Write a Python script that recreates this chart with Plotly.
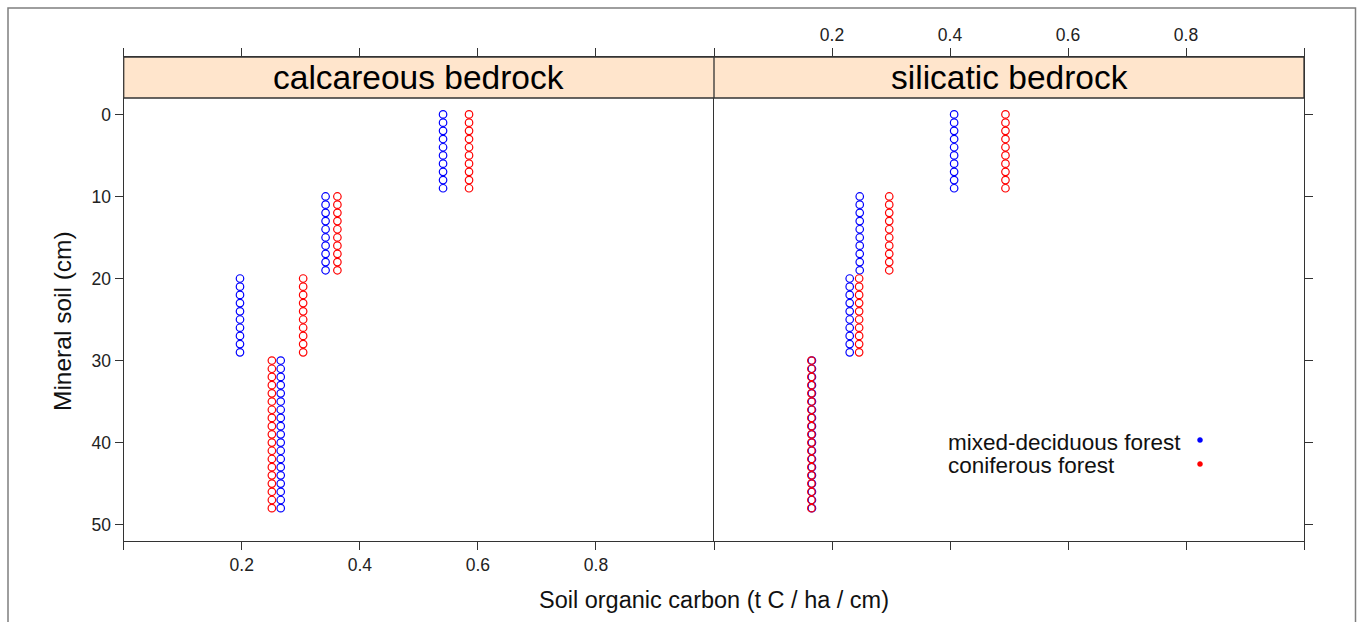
import plotly.graph_objects as go

# ---- data ----
panels = ["calcareous bedrock", "silicatic bedrock"]
series_names = ["mixed-deciduous forest", "coniferous forest"]
series_colors = ["#0000FF", "#FF0000"]

# soil horizons (cm): first and last depth of each horizon
horizon_top = [0, 10, 20, 30]
horizon_bottom = [9, 19, 29, 48]

# soil organic carbon (t C / ha / cm) per horizon
calc_deciduous = [0.541, 0.342, 0.197, 0.266]
calc_coniferous = [0.585, 0.362, 0.304, 0.251]
sili_deciduous = [0.407, 0.247, 0.230, 0.166]
sili_coniferous = [0.494, 0.297, 0.246, 0.165]

x_tickvals = [0, 0.2, 0.4, 0.6, 0.8, 1.0]
x_ticktext = ["", "0.2", "0.4", "0.6", "0.8", ""]
y_tickvals = [0, 10, 20, 30, 40, 50]

panel_values = {
    "calcareous bedrock": [calc_deciduous, calc_coniferous],
    "silicatic bedrock": [sili_deciduous, sili_coniferous],
}


def expand(values):
    xs, ys = [], []
    for v, t, b in zip(values, horizon_top, horizon_bottom):
        for d in range(t, b + 1):
            xs.append(v)
            ys.append(d)
    return xs, ys


W, H = 1357, 622
FONT = "Liberation Sans, Arial, sans-serif"
LINE = "#333333"

# layout geometry (pixels -> paper)
px_left, px_mid, px_right = 123.7, 714.0, 1304.0
py_top, py_bottom = 57.0, 541.0
dom_x1 = [px_left / W, px_mid / W]
dom_x2 = [px_mid / W, px_right / W]
dom_y = [1 - py_bottom / H, 1 - py_top / H]

fig = go.Figure()

axis_ids = [("x", "y"), ("x2", "y2")]
for p, (xa, ya) in zip(panels, axis_ids):
    for vals, name, col in zip(panel_values[p], series_names, series_colors):
        xs, ys = expand(vals)
        fig.add_trace(go.Scatter(
            x=xs, y=ys, mode="markers", name=name, showlegend=False,
            xaxis=xa, yaxis=ya,
            marker=dict(symbol="circle-open", size=7.5, color=col,
                        line=dict(width=1.2, color=col)),
            hoverinfo="x+y",
        ))

tickfont = dict(family=FONT, size=17.5, color="#222222")
common_x = dict(range=[0, 1], tickvals=x_tickvals, ticktext=x_ticktext,
                ticks="outside", ticklen=8, tickwidth=1.3, tickcolor=LINE,
                showline=True, linecolor=LINE, linewidth=1.3,
                mirror="ticks", showgrid=False, zeroline=False,
                tickfont=tickfont)
common_y = dict(range=[52, -7], tickvals=y_tickvals,
                ticks="outside", ticklen=8, tickwidth=1.3, tickcolor=LINE,
                showline=True, linecolor=LINE, linewidth=1.3,
                showgrid=False, zeroline=False,
                tickfont=tickfont)

fig.update_layout(
    width=W, height=H, autosize=False,
    margin=dict(l=0, r=0, t=0, b=0),
    paper_bgcolor="white", plot_bgcolor="white",
    showlegend=False,
    xaxis=dict(domain=dom_x1, anchor="y", side="bottom", **common_x),
    xaxis2=dict(domain=dom_x2, anchor="y2", side="top", **common_x),
    yaxis=dict(domain=dom_y, anchor="x", side="left", mirror=False, **common_y),
    yaxis2=dict(domain=dom_y, anchor="x2", side="right", mirror=True,
                showticklabels=False, **common_y),
)

shapes = []
annotations = []
# strips
for p, (xa, ya) in zip(panels, axis_ids):
    shapes.append(dict(type="rect", xref=xa, yref=ya, x0=0, x1=1, y0=-7, y1=-2,
                       fillcolor="#FFE5CC", line=dict(color=LINE, width=1.3),
                       layer="above"))
    annotations.append(dict(text=p, xref=xa, yref=ya, x=0.5, y=-4.5,
                            showarrow=False, xanchor="center", yanchor="middle",
                            font=dict(family=FONT, size=33.5, color="#000000")))

# outer border
shapes.append(dict(type="rect", xref="paper", yref="paper",
                   x0=8 / W, x1=1355.5 / W, y0=-0.2, y1=1 - 8 / H,
                   line=dict(color="#7f7f7f", width=1.5), fillcolor="rgba(0,0,0,0)"))

# axis titles
annotations.append(dict(text="Soil organic carbon (t C / ha / cm)", xref="paper", yref="paper",
                        x=(px_left + px_right) / 2 / W, y=1 - 600 / H, showarrow=False,
                        xanchor="center", yanchor="middle",
                        font=dict(family=FONT, size=23.5, color="#111111")))
annotations.append(dict(text="Mineral soil (cm)", xref="paper", yref="paper",
                        x=63 / W, y=1 - 321 / H, showarrow=False, textangle=-90,
                        xanchor="center", yanchor="middle",
                        font=dict(family=FONT, size=24.5, color="#111111")))

# legend (text left, key right)
leg_y = [442, 466]
for name, col, yy in zip(series_names, series_colors, leg_y):
    annotations.append(dict(text=name, xref="paper", yref="paper",
                            x=946 / W, y=1 - yy / H, showarrow=False,
                            xanchor="left", yanchor="middle",
                            font=dict(family=FONT, size=22.5, color="#111111")))
    shapes.append(dict(type="circle", xref="paper", yref="paper",
                       x0=1197.5 / W, x1=1202.5 / W,
                       y0=1 - (yy - 2 + 2.5) / H, y1=1 - (yy - 2 - 2.5) / H,
                       fillcolor=col, line=dict(color=col, width=0.5)))

fig.update_layout(shapes=shapes, annotations=annotations)
fig.write_html("out.html")
